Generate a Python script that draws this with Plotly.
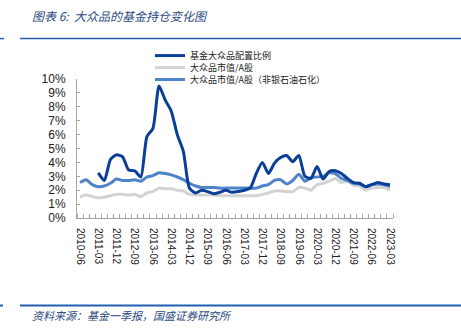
import plotly.graph_objects as go

# Quarter-end dates, 2010-06 through 2023-03
quarters = []
for y in range(2010, 2024):
    for m in ("03", "06", "09", "12"):
        q = f"{y}-{m}"
        if "2010-06" <= q <= "2023-03":
            quarters.append(q)

# Fund allocation ratio to mass consumer goods (%)
fund_ratio = [None, None, None, 3.25, 2.7, 4.2, 4.55, 4.4, 3.45, 3.4,
              2.95, 5.85, 6.45, 9.5, 8.5, 7.7, 6.0, 4.8, 2.15, 1.8,
              2.0, 1.9, 1.75, 1.85, 2.0, 1.85, 1.9, 2.0, 2.15, 3.2,
              4.0, 3.2, 3.95, 4.35, 4.5, 4.05, 4.5, 3.0, 2.85, 3.7,
              2.8, 3.35, 3.4, 3.2, 2.85, 2.55, 2.5, 2.25, 2.4, 2.55,
              2.45, 2.4]

# Mass consumer goods market cap / A-share total (%)
mktcap_a = [1.5, 1.65, 1.55, 1.45, 1.5, 1.6, 1.7, 1.7, 1.65, 1.7,
            1.55, 1.8, 1.9, 2.15, 2.1, 2.1, 2.0, 1.95, 1.7, 1.65,
            1.65, 1.65, 1.65, 1.6, 1.6, 1.6, 1.6, 1.6, 1.6, 1.6,
            1.7, 1.8, 1.95, 1.95, 1.9, 1.9, 2.2, 2.15, 2.0, 2.4,
            2.5, 2.65, 2.85, 2.55, 2.65, 2.35, 2.3, 2.0, 2.15, 2.2,
            2.2, 2.0]

# Mass consumer goods market cap / A-share ex banks, non-bank finance, petrochem (%)
mktcap_ex = [2.55, 2.75, 2.4, 2.25, 2.3, 2.5, 2.8, 2.7, 2.7, 2.75,
             2.65, 2.95, 3.05, 3.25, 3.2, 3.1, 2.95, 2.75, 2.5, 2.3,
             2.2, 2.2, 2.2, 2.15, 2.15, 2.15, 2.15, 2.15, 2.15, 2.15,
             2.3, 2.4, 2.7, 2.75, 2.45, 2.7, 3.15, 2.65, 2.9, 2.95,
             3.0, 3.25, 3.2, 2.85, 2.7, 2.5, 2.45, 2.25, 2.4, 2.45,
             2.4, 2.25]

names = ["基金大众品配置比例", "大众品市值/A股", "大众品市值/A股（非银石油石化）"]
colors = ["#0b3f97", "#d3d3d3", "#4f83c9"]

W, H = 461, 331
L, R, T, B = 77, 393, 79, 218.3


def px(x):
    return (x - L) / (R - L)


def py(y):
    return (B - y) / (B - T)


idx = list(range(len(quarters)))
fig = go.Figure()
# draw order: grey, light blue, then dark blue on top; each series has its own legend row
for data, name, color, leg in [(mktcap_a, names[1], colors[1], "legend2"),
                               (mktcap_ex, names[2], colors[2], "legend3"),
                               (fund_ratio, names[0], colors[0], "legend")]:
    fig.add_trace(go.Scatter(
        x=idx, y=data, mode="lines", name=name, legend=leg,
        line=dict(color=color, width=3, shape="spline", smoothing=0.6),
        connectgaps=False,
    ))

font_cn = "Noto Sans CJK SC, Liberation Sans, sans-serif"
tick_idx = idx[::3]


def legend_at(top):
    return dict(
        x=px(150), y=py(top), xanchor="left", yanchor="top",
        font=dict(family=font_cn, size=9, color="#222"),
        bgcolor="rgba(0,0,0,0)", itemwidth=30,
    )


fig.update_layout(
    width=W, height=H, autosize=False,
    margin=dict(l=L, r=W - R, t=T, b=H - B),
    paper_bgcolor="white", plot_bgcolor="white",
    showlegend=True,
    legend=legend_at(41),
    legend2=legend_at(53),
    legend3=legend_at(65),
    xaxis=dict(
        range=[-0.5, len(quarters) - 0.5],
        tickmode="array", tickvals=tick_idx,
        ticktext=[quarters[i] for i in tick_idx],
        tickangle=90, ticks="", ticklabelstandoff=7,
        tickfont=dict(family="Liberation Sans, Arial, sans-serif", size=10, color="#222"),
        showgrid=False, zeroline=False,
        showline=True, linecolor="#a6a6a6", linewidth=1,
        minor=dict(tickmode="linear", tick0=-0.5, dtick=1,
                   ticks="inside", ticklen=4, tickcolor="#a6a6a6", showgrid=False),
    ),
    yaxis=dict(
        range=[0, 10], dtick=1, ticksuffix="%",
        ticks="inside", ticklen=3, tickcolor="#a6a6a6", ticklabelstandoff=8,
        tickfont=dict(family="Liberation Sans, Arial, sans-serif", size=12, color="#222"),
        showgrid=False, zeroline=False,
        showline=True, linecolor="#a6a6a6", linewidth=1,
    ),
    annotations=[
        dict(text="<i>图表 6:  大众品的基金持仓变化图</i>", xref="paper", yref="paper",
             x=px(30), y=py(15), xanchor="left", yanchor="middle", showarrow=False,
             font=dict(family=font_cn, size=12, color="#2b4a7e")),
        dict(text="<i>资料来源：基金一季报，国盛证券研究所</i>", xref="paper", yref="paper",
             x=px(30), y=py(316), xanchor="left", yanchor="middle", showarrow=False,
             font=dict(family=font_cn, size=11, color="#2b4a7e")),
    ],
    shapes=[
        dict(type="line", xref="paper", yref="paper", x0=px(20), x1=px(461),
             y0=py(38.5), y1=py(38.5), line=dict(color="#1f5fb4", width=1.5)),
        dict(type="line", xref="paper", yref="paper", x0=px(0), x1=px(4),
             y0=py(38.5), y1=py(38.5), line=dict(color="#1f5fb4", width=1.5)),
        dict(type="line", xref="paper", yref="paper", x0=px(20), x1=px(461),
             y0=py(306), y1=py(306), line=dict(color="#1f5fb4", width=2)),
        dict(type="line", xref="paper", yref="paper", x0=px(0), x1=px(3),
             y0=py(306), y1=py(306), line=dict(color="#1f5fb4", width=2)),
    ],
)

fig.write_html("out.html")
